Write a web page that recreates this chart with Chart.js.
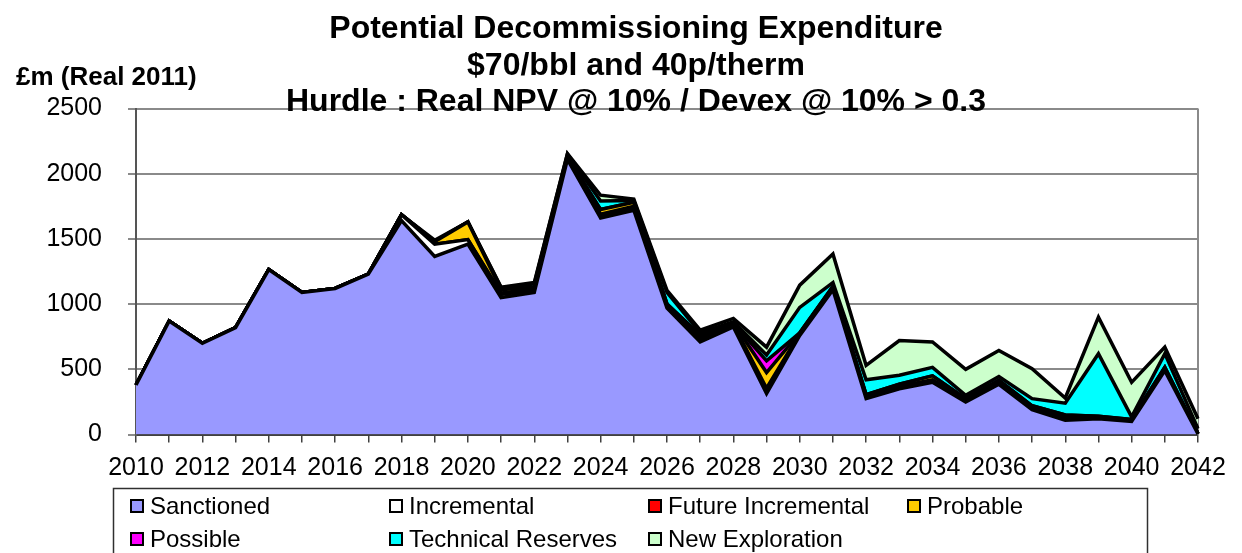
<!DOCTYPE html>
<html>
<head>
<meta charset="utf-8">
<title>Potential Decommissioning Expenditure</title>
<script src="https://cdn.jsdelivr.net/npm/chart.js@4.4.1/dist/chart.umd.min.js"></script>
<style>
  html, body { margin: 0; padding: 0; background: #ffffff; }
  canvas { display: block; }
</style>
</head>
<body>
<canvas id="chart" width="1242" height="553"></canvas>
<script>
// Data, £m Real 2011
const years = ['2010', '2011', '2012', '2013', '2014', '2015', '2016', '2017', '2018', '2019', '2020',
    '2021', '2022', '2023', '2024', '2025', '2026', '2027', '2028', '2029', '2030', '2031',
    '2032', '2033', '2034', '2035', '2036', '2037', '2038', '2039', '2040', '2041', '2042'];

const sanctioned = [380, 870, 700, 820, 1265, 1090, 1120, 1230, 1640, 1365, 1460,
    1050, 1090, 2110, 1660, 1720, 970, 710, 825, 315, 760, 1110,
    275, 350, 400, 250, 385, 190, 110, 120, 100, 490, 5];
const incremental = [0, 0, 0, 0, 0, 0, 0, 0, 45, 95, 35,
    25, 15, 10, 10, 10, 15, 20, 10, 20, 10, 10,
    10, 10, 10, 10, 10, 10, 10, 5, 5, 10, 0];
const futureIncremental = [0, 0, 0, 0, 0, 0, 0, 0, 0, 0, 0,
    10, 10, 5, 20, 20, 10, 20, 10, 20, 5, 10,
    10, 10, 10, 10, 10, 10, 10, 5, 5, 10, 0];
const probable = [0, 0, 0, 0, 0, 0, 0, 0, 0, 20, 135,
    25, 15, 5, 35, 30, 5, 10, 10, 120, 5, 5,
    10, 15, 30, 5, 10, 10, 20, 10, 5, 5, 0];
const possible = [0, 0, 0, 0, 0, 0, 0, 0, 0, 0, 0,
    0, 0, 0, 0, 0, 0, 0, 0, 90, 0, 0,
    0, 0, 0, 0, 0, 0, 0, 0, 0, 0, 0];
const technicalReserves = [0, 0, 0, 0, 0, 0, 0, 0, 0, 0, 0,
    15, 25, 20, 65, 15, 90, 20, 10, 45, 195, 30,
    115, 70, 65, 25, 30, 55, 90, 480, 20, 105, 40];
const newExploration = [0, 0, 0, 0, 0, 0, 0, 0, 0, 10, 0,
    5, 10, 5, 45, 10, 15, 20, 25, 60, 170, 220,
    110, 265, 195, 200, 200, 230, 40, 280, 265, 50, 75];

const seriesNames = ['Sanctioned', 'Incremental', 'Future Incremental', 'Probable',
    'Possible', 'Technical Reserves', 'New Exploration'];
const seriesColors = ['#9999ff', '#ffffff', '#ff0000', '#ffcc00', '#ff00ff', '#00ffff', '#ccffcc'];
const seriesValues = [sanctioned, incremental, futureIncremental, probable,
    possible, technicalReserves, newExploration];

const yTicks = [0, 500, 1000, 1500, 2000, 2500];

const titleLines = ['Potential Decommissioning Expenditure', '$70/bbl and 40p/therm',
    'Hurdle : Real NPV @ 10% / Devex @ 10% > 0.3'];
const unitLabel = '£m (Real 2011)';

const FONT = '"Liberation Sans", Arial, sans-serif';

// title + unit label, drawn over the plot like the original
const titlePlugin = {
    id: 'titleText',
    afterDraw(chart) {
        const { ctx } = chart;
        ctx.save();
        ctx.fillStyle = '#000';
        ctx.textAlign = 'center';
        ctx.textBaseline = 'alphabetic';
        ctx.font = `bold 32px ${FONT}`;
        titleLines.forEach((line, i) => ctx.fillText(line, 636, 38 + i * 36.5));
        ctx.textAlign = 'left';
        ctx.font = `bold 26px ${FONT}`;
        ctx.fillText(unitLabel, 16, 85);
        ctx.restore();
    }
};

// right edge of the plot frame
const framePlugin = {
    id: 'plotFrame',
    beforeDatasetsDraw(chart) {
        const { ctx, chartArea } = chart;
        ctx.save();
        ctx.strokeStyle = '#8a8a8a';
        ctx.lineWidth = 2;
        ctx.beginPath();
        ctx.moveTo(chartArea.right, chartArea.top);
        ctx.lineTo(chartArea.right, chartArea.bottom);
        ctx.stroke();
        ctx.restore();
    }
};

// boxed legend, 4 columns
const legendPlugin = {
    id: 'boxLegend',
    afterDraw(chart) {
        const { ctx } = chart;
        ctx.save();
        ctx.strokeStyle = '#303030';
        ctx.lineWidth = 1.5;
        ctx.strokeRect(113.5, 488.5, 1034, 80);

        ctx.font = `24px ${FONT}`;
        ctx.textAlign = 'left';
        ctx.textBaseline = 'alphabetic';
        chart.data.datasets.forEach((ds, i) => {
            const col = i % 4;
            const row = Math.floor(i / 4);
            const x = 131 + col * 259;
            const y = 500 + row * 33;
            ctx.fillStyle = ds.backgroundColor;
            ctx.fillRect(x, y, 12, 12);
            ctx.strokeStyle = '#000';
            ctx.lineWidth = 2;
            ctx.strokeRect(x, y, 12, 12);
            ctx.fillStyle = '#000';
            ctx.fillText(ds.label, x + 19, y + 14);
        });
        ctx.restore();
    }
};

new Chart(document.getElementById('chart'), {
    type: 'line',
    data: {
        labels: years,
        datasets: seriesValues.map((values, i) => ({
            label: seriesNames[i],
            data: values,
            backgroundColor: seriesColors[i],
            borderColor: '#000000',
            borderWidth: 3.5,
            borderJoinStyle: 'miter',
            pointRadius: 0,
            pointHoverRadius: 0,
            tension: 0,
            fill: i === 0 ? 'origin' : '-1'
        }))
    },
    options: {
        responsive: false,
        animation: false,
        devicePixelRatio: 1,
        layout: { padding: { top: 108.5, right: 44, left: 0, bottom: 0 } },
        plugins: {
            legend: { display: false },
            title: { display: false },
            tooltip: { enabled: false }
        },
        scales: {
            x: {
                type: 'category',
                offset: false,
                afterFit(scale) { scale.height = 118.5; },
                grid: {
                    display: true,
                    drawOnChartArea: false,
                    drawTicks: true,
                    tickLength: 8,
                    color: '#404040',
                    lineWidth: 1.5
                },
                border: { display: true, color: '#404040', width: 2 },
                ticks: {
                    autoSkip: false,
                    maxRotation: 0,
                    minRotation: 0,
                    padding: 11,
                    color: '#000',
                    font: { family: FONT, size: 25 },
                    callback: (value, index) => (index % 2 === 0 ? years[index] : '')
                }
            },
            y: {
                stacked: true,
                min: 0,
                max: 2500,
                afterFit(scale) { scale.width = 136; },
                afterBuildTicks(scale) { scale.ticks = yTicks.map(v => ({ value: v })); },
                grid: {
                    color: '#8a8a8a',
                    lineWidth: 2,
                    drawTicks: true,
                    tickLength: 8
                },
                border: { display: true, color: '#555555', width: 2 },
                ticks: {
                    padding: 26,
                    color: '#000',
                    font: { family: FONT, size: 25 },
                    callback: value => String(value)
                }
            }
        }
    },
    plugins: [framePlugin, titlePlugin, legendPlugin]
});
</script>
</body>
</html>
